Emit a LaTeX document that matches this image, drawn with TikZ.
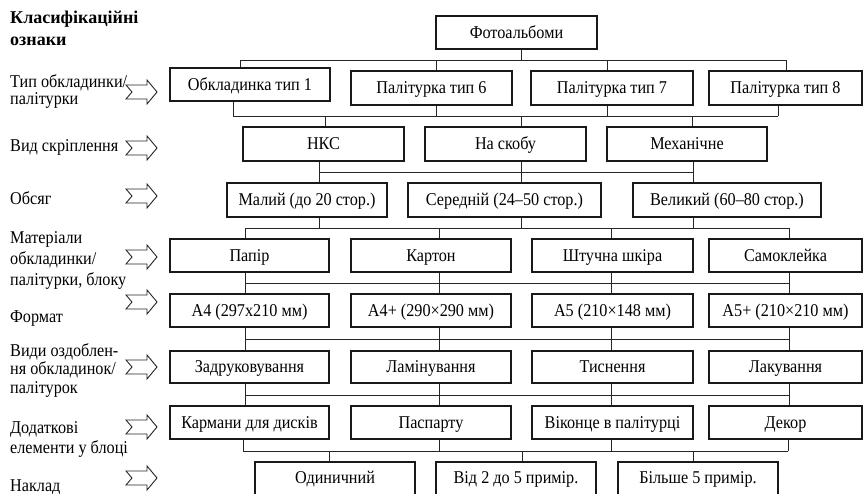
\documentclass[tikz,border=0pt]{standalone}
\usepackage{fontspec}
\setmainfont[FakeStretch=0.9]{Liberation Serif}
\newfontfamily\hdrfont{Liberation Serif}
\begin{document}
\begin{tikzpicture}[x=1pt,y=-1pt,
  box/.style={draw=black!90, line width=2.4pt, inner sep=0pt, minimum width=160pt, minimum height=33pt,
    text height=15pt, text depth=3pt, font=\fontsize{18}{21}\selectfont},
  lastrow/.style={text height=13pt, text depth=5pt},
  conn/.style={draw=black!85, line width=0.9pt},
  lbl/.style={anchor=west, inner sep=0pt, text height=15pt, text depth=3pt, font=\fontsize{18}{21}\selectfont},
  hdr/.style={anchor=west, inner sep=0pt, text height=15pt, text depth=3pt, font=\hdrfont\bfseries\fontsize{18}{21}\selectfont},
  blockarrow/.pic={\draw[black!85, line width=0.9pt, line join=miter] (0,-7) -- (21,-7) -- (21,-12) -- (31,0) -- (21,12) -- (21,7) -- (0,7) -- (6,0) -- cycle;}
]
\useasboundingbox (0,0) rectangle (863,494);
\clip (0,0) rectangle (863,494);

% ---- left labels ----
\node[hdr] (h1) at (10,18) {Класифікаційні};
\node[hdr] (h2) at (10,40) {ознаки};
\node[lbl] (l1a) at (10,82) {Тип обкладинки/};
\node[lbl] (l1b) at (10,99) {палітурки};
\node[lbl] (l2) at (10,146) {Вид скріплення};
\node[lbl] (l3) at (10,199) {Обсяг};
\node[lbl] (l4a) at (10,238) {Матеріали};
\node[lbl] (l4b) at (10,259) {обкладинки/};
\node[lbl] (l4c) at (10,280) {палітурки, блоку};
\node[lbl] (l5) at (10,317) {Формат};
\node[lbl] (l6a) at (10,351) {Види оздоблен-};
\node[lbl] (l6b) at (10,369) {ня обкладинок/};
\node[lbl] (l6c) at (10,388) {палітурок};
\node[lbl] (l7a) at (10,428) {Додаткові};
\node[lbl] (l7b) at (10,448) {елементи у блоці};
\node[lbl] (l8) at (10,485) {Наклад};

\foreach \y in {92,148,196,257,302,367,427,478}
  \pic at (126,\y) {blockarrow};

% ---- boxes ----
\node[box, minimum width=161pt] (top) at (516.5,32.5) {Фотоальбоми};

\node[box] (b11) at (250,84.5) {Обкладинка тип 1};
\node[box, minimum width=161pt, minimum height=34pt] (b12) at (431.5,88) {Палітурка тип 6};
\node[box, minimum width=162pt, minimum height=34pt] (b13) at (612,88) {Палітурка тип 7};
\node[box, minimum width=153pt, minimum height=34pt] (b14) at (785.5,88) {Палітурка тип 8};

\node[box, minimum width=161pt, minimum height=34pt] (c21) at (323.5,144) {НКС};
\node[box, minimum width=161pt, minimum height=34pt] (c22) at (505.5,144) {На скобу};
\node[box, minimum height=34pt] (c23) at (687,144) {Механічне};

\node[box, minimum height=34pt] (c31) at (307,200) {Малий (до 20 стор.)};
\node[box, minimum width=193pt, minimum height=34pt] (c32) at (504.5,200) {Середній (24–50 стор.)};
\node[box, minimum width=188pt, minimum height=34pt] (c33) at (727,200) {Великий (60–80 стор.)};

\node[box, minimum width=159pt] (c41) at (249.5,255.5) {Папір};
\node[box] (c42) at (431,255.5) {Картон};
\node[box, minimum width=161pt] (c43) at (612.5,255.5) {Штучна шкіра};
\node[box, minimum width=153pt] (c44) at (785.5,255.5) {Самоклейка};

\node[box, minimum width=159pt] (c51) at (249.5,310.5) {А4 (297х210 мм)};
\node[box] (c52) at (431,310.5) {А4+ (290×290 мм)};
\node[box, minimum width=161pt] (c53) at (612.5,310.5) {А5 (210×148 мм)};
\node[box, minimum width=153pt] (c54) at (785.5,310.5) {А5+ (210×210 мм)};

\node[box, minimum width=159pt, minimum height=32pt] (c61) at (249.5,367) {Задруковування};
\node[box, minimum height=32pt] (c62) at (431,367) {Ламінування};
\node[box, minimum width=161pt, minimum height=32pt] (c63) at (612.5,367) {Тиснення};
\node[box, minimum width=153pt, minimum height=32pt] (c64) at (785.5,367) {Лакування};

\node[box, minimum width=159pt] (c71) at (249.5,422.5) {Кармани для дисків};
\node[box] (c72) at (431,422.5) {Паспарту};
\node[box, minimum width=161pt] (c73) at (612.5,422.5) {Віконце в палітурці};
\node[box, minimum width=153pt] (c74) at (785.5,422.5) {Декор};

\node[box, lastrow, minimum height=36pt] (c81) at (335,480) {Одиничний};
\node[box, lastrow, minimum height=36pt] (c82) at (516,480) {Від 2 до 5 примір.};
\node[box, lastrow, minimum height=36pt] (c83) at (698,480) {Більше 5 примір.};

% ---- buses ----
\coordinate (k0) at (0,60);
\coordinate (k1) at (0,116);
\coordinate (k2) at (0,172);
\coordinate (k3) at (0,228);
\coordinate (k4) at (0,283);
\coordinate (k5) at (0,339);
\coordinate (k6) at (0,395);
\coordinate (k7) at (0,451);

\draw[conn] (240,0 |- k0) -- (786,0 |- k0);
\draw[conn] (521,0 |- top.south) -- (521,0 |- k0);
\foreach \x/\n in {240/b11,436/b12,607/b13,786/b14}
  \draw[conn] (\x,0 |- k0) -- (\x,0 |- \n.north);

\draw[conn] (233,0 |- k1) -- (778,0 |- k1);
\foreach \x/\n in {233/b11,436/b12,607/b13,778/b14}
  \draw[conn] (\x,0 |- \n.south) -- (\x,0 |- k1);
\foreach \x/\n in {325/c21,521/c22,692/c23}
  \draw[conn] (\x,0 |- k1) -- (\x,0 |- \n.north);

\draw[conn] (319,0 |- k2) -- (693,0 |- k2);
\foreach \x/\n in {319/c21,521/c22,693/c23}
  \draw[conn] (\x,0 |- \n.south) -- (\x,0 |- k2);
\foreach \x/\n in {319/c31,521/c32,693/c33}
  \draw[conn] (\x,0 |- k2) -- (\x,0 |- \n.north);

\draw[conn] (245,0 |- k3) -- (789,0 |- k3);
\foreach \x/\n in {319/c31,521/c32,693/c33}
  \draw[conn] (\x,0 |- \n.south) -- (\x,0 |- k3);
\foreach \x/\n in {245/c41,439/c42,611/c43,789/c44}
  \draw[conn] (\x,0 |- k3) -- (\x,0 |- \n.north);

\draw[conn] (245,0 |- k4) -- (789,0 |- k4);
\foreach \x/\a/\b in {245/c41/c51,439/c42/c52,611/c43/c53,789/c44/c54}
  \draw[conn] (\x,0 |- \a.south) -- (\x,0 |- \b.north);

\draw[conn] (245,0 |- k5) -- (789,0 |- k5);
\foreach \x/\a/\b in {245/c51/c61,439/c52/c62,611/c53/c63,789/c54/c64}
  \draw[conn] (\x,0 |- \a.south) -- (\x,0 |- \b.north);

\draw[conn] (245,0 |- k6) -- (789,0 |- k6);
\foreach \x/\a/\b in {245/c61/c71,439/c62/c72,611/c63/c73,789/c64/c74}
  \draw[conn] (\x,0 |- \a.south) -- (\x,0 |- \b.north);

\draw[conn] (243,0 |- k7) -- (788,0 |- k7);
\foreach \x/\n in {243/c71,439/c72,611/c73,788/c74}
  \draw[conn] (\x,0 |- \n.south) -- (\x,0 |- k7);
\foreach \x/\n in {329/c81,522/c82,693/c83}
  \draw[conn] (\x,0 |- k7) -- (\x,0 |- \n.north);
\end{tikzpicture}
\end{document}
